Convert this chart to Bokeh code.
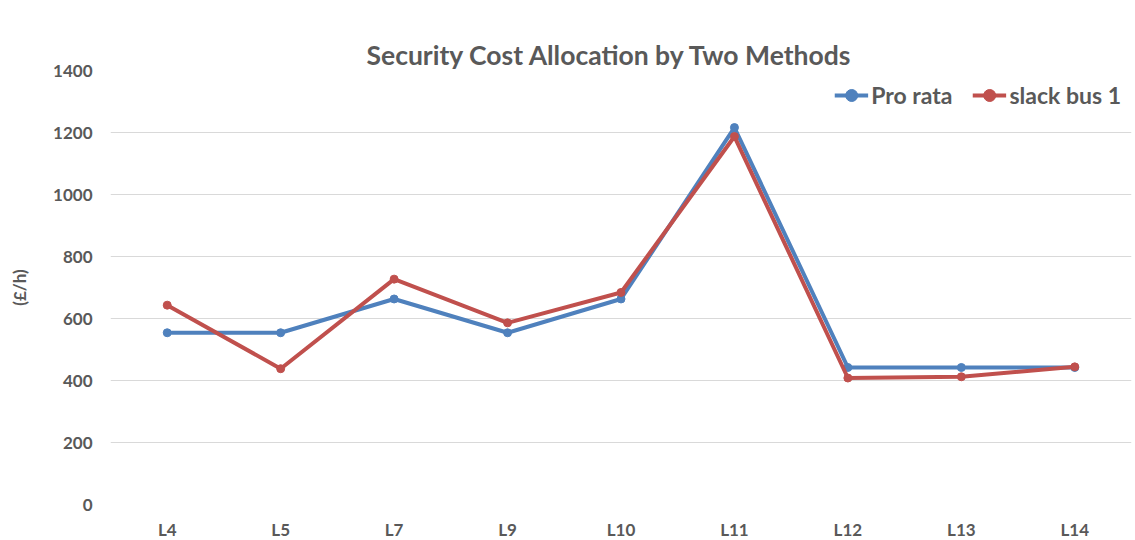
from bokeh.plotting import figure
from bokeh.models import FactorRange, Legend, LegendItem, SingleIntervalTicker, Title
from bokeh.embed import file_html
from bokeh.resources import INLINE

categories = ["L4", "L5", "L7", "L9", "L10", "L11", "L12", "L13", "L14"]
pro_rata = [554, 554, 663, 554, 663, 1216, 442, 442, 442]
slack_bus_1 = [643, 438, 727, 586, 684, 1187, 408, 412, 444]
title_text = "Security Cost Allocation by Two Methods"

FONT = "Lato"
TXT = "#595959"
BLUE = "#4F81BD"
RED = "#C0504D"

p = figure(
    frame_width=1021, frame_height=434,
    x_range=FactorRange(factors=categories),
    y_range=(0, 1400),
    output_backend="svg", toolbar_location=None,
    min_border_left=110, min_border_right=4, min_border_top=70, min_border_bottom=36,
)
p.outline_line_color = None
p.background_fill_color = "white"
p.border_fill_color = "white"

p.title.text = ""
p.title.standoff = 0
main_title = Title(
    text=title_text, align="left", offset=256, standoff=0,
    text_font=FONT, text_font_size="26.5px", text_font_style="bold", text_color=TXT,
)
p.add_layout(main_title, "above")
# spacer title added last so it sits between the frame and the real title
spacer = Title(text=".", align="left", standoff=0, text_alpha=0,
               text_font=FONT, text_font_size="24px")
p.add_layout(spacer, "above")

r1 = p.line(categories, pro_rata, line_color=BLUE, line_width=4)
c1 = p.scatter(categories, pro_rata, size=8, fill_color=BLUE, line_color=BLUE)
r2 = p.line(categories, slack_bus_1, line_color=RED, line_width=4)
c2 = p.scatter(categories, slack_bus_1, size=8, fill_color=RED, line_color=RED)

p.yaxis.ticker = SingleIntervalTicker(interval=200)
p.ygrid.ticker = SingleIntervalTicker(interval=200)
p.ygrid.grid_line_color = "#D9D9D9"
p.ygrid.grid_line_width = 1
p.xgrid.grid_line_color = None

for ax in (p.xaxis, p.yaxis):
    ax.axis_line_color = None
    ax.major_tick_line_color = None
    ax.minor_tick_line_color = None
    ax.major_label_text_font = FONT
    ax.major_label_text_font_size = "17px"
    ax.major_label_text_font_style = "bold"
    ax.major_label_text_color = TXT

p.xaxis.major_label_standoff = 8
p.yaxis.major_label_standoff = 12
p.yaxis.axis_label = "(£/h)"
p.yaxis.axis_label_text_font = FONT
p.yaxis.axis_label_text_font_size = "17px"
p.yaxis.axis_label_text_font_style = "bold"
p.yaxis.axis_label_text_color = TXT
p.yaxis.axis_label_standoff = 20

legend = Legend(
    items=[LegendItem(label="Pro rata", renderers=[r1, c1]),
           LegendItem(label="slack bus 1", renderers=[r2, c2])],
    location="top_right", orientation="horizontal",
    background_fill_alpha=0, border_line_color=None,
    label_text_font=FONT, label_text_font_size="23px", label_text_font_style="bold",
    label_text_color=TXT, glyph_width=34, glyph_height=30, label_height=30,
    label_standoff=3, spacing=20, margin=10, padding=0,
)
p.add_layout(legend)

open("out.html", "w").write(file_html(p, INLINE))
